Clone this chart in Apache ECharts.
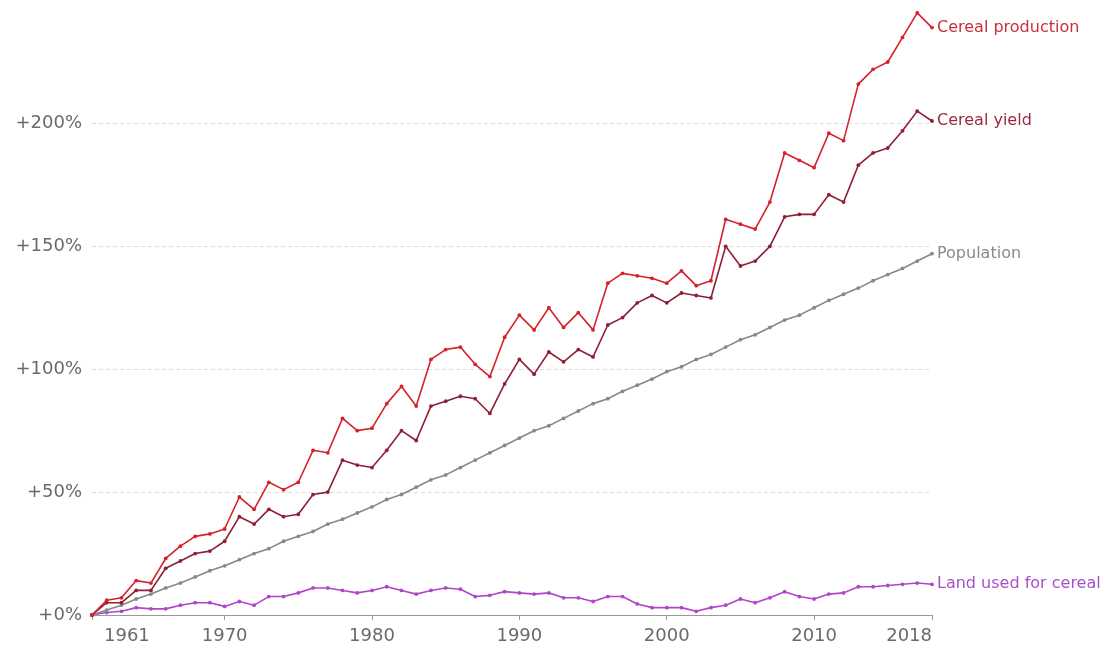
<!DOCTYPE html>
<html>
<head>
<meta charset="utf-8">
<script src="https://cdn.jsdelivr.net/npm/echarts@6/dist/echarts.min.js"></script>
<style>
html,body{margin:0;padding:0;background:#fff;}
#chart{width:1111px;height:649px;}
</style>
</head>
<body>
<div id="chart"></div>
<script>
var years = [];
for (var y = 1961; y <= 2018; y++) years.push(String(y));

var labelYears = ['1961','1970','1980','1990','2000','2010','2018'];
var yTicks = [0, 50, 100, 150, 200];

var cerealProduction = [0,6,7,14,13,23,28,32,33,35,48,43,54,51,54,67,66,80,75,76,86,93,85,104,108,109,102,97,113,122,116,125,117,123,116,135,139,138,137,135,140,134,136,161,159,157,168,188,185,182,196,193,216,222,225,235,245,239];
var cerealYield = [0,5,5,10,10,19,22,25,26,30,40,37,43,40,41,49,50,63,61,60,67,75,71,85,87,89,88,82,94,104,98,107,103,108,105,118,121,127,130,127,131,130,129,150,142,144,150,162,163,163,171,168,183,188,190,197,205,201];
var population = [0,2,4,6.5,8.5,11,13,15.5,18,20,22.5,25,27,30,32,34,37,39,41.5,44,47,49,52,55,57,60,63,66,69,72,75,77,80,83,86,88,91,93.5,96,99,101,104,106,109,112,114,117,120,122,125,128,130.5,133,136,138.5,141,144,147];
var landCereal = [0,1,1.5,3,2.5,2.5,4,5,5,3.5,5.5,4,7.5,7.5,9,11,11,10,9,10,11.5,10,8.5,10,11,10.5,7.5,8,9.5,9,8.5,9,7,7,5.5,7.5,7.5,4.5,3,3,3,1.5,3,4,6.5,5,7,9.5,7.5,6.5,8.5,9,11.5,11.5,12,12.5,13,12.5];

var font = '"DejaVu Sans", sans-serif';

function mk(name, data, color, labelColor) {
  return {
    name: name,
    type: 'line',
    data: data,
    symbol: 'circle',
    symbolSize: 3.8,
    showSymbol: true,
    lineStyle: {width: 1.6, color: color},
    itemStyle: {color: color},
    emphasis: {disabled: true},
    endLabel: {
      show: true,
      formatter: name,
      color: labelColor || color,
      fontFamily: font,
      fontSize: 16,
      distance: 5
    },
    z: 3
  };
}

var chart = echarts.init(document.getElementById('chart'), null, {renderer: 'canvas'});
chart.setOption({
  animation: false,
  backgroundColor: '#ffffff',
  grid: {left: 92, right: 179, top: 3, bottom: 34, containLabel: false},
  xAxis: {
    type: 'category',
    data: years,
    boundaryGap: false,
    axisLine: {show: true, lineStyle: {color: '#999', width: 1.2}},
    axisTick: {
      show: true, length: 5, lineStyle: {color: '#999'},
      interval: function (i, v) { return labelYears.indexOf(v) >= 0; }
    },
    axisLabel: {
      interval: function (i, v) { return labelYears.indexOf(v) >= 0; },
      color: '#6a6a6a', fontSize: 18, fontFamily: font, margin: 12,
      alignMinLabel: 'left',
      alignMaxLabel: 'right',
      formatter: function (v) { return v === labelYears[0] ? '{first|' + v + '}' : v; },
      rich: {
        first: {color: '#6a6a6a', fontSize: 18, fontFamily: font, padding: [0, 0, 0, 12]}
      }
    },
    splitLine: {show: false}
  },
  yAxis: {
    type: 'value',
    min: 0, max: 249, interval: 50,
    axisLine: {show: false},
    axisTick: {show: false},
    axisLabel: {
      color: '#6a6a6a', fontSize: 18, fontFamily: font, margin: 10,
      formatter: function (v) { return yTicks.indexOf(v) >= 0 ? '+' + v + '%' : ''; }
    },
    splitLine: {show: true, showMaxLine: false, lineStyle: {color: '#ddd', type: [4, 3], width: 1}}
  },
  series: [
    mk('Land used for cereal', landCereal, '#b045c8', '#a850c8'),
    mk('Population', population, '#888888', '#8a8a8a'),
    mk('Cereal yield', cerealYield, '#8e1f35', '#9a2a40'),
    mk('Cereal production', cerealProduction, '#d6212b', '#c8303a')
  ]
});
</script>
</body>
</html>
